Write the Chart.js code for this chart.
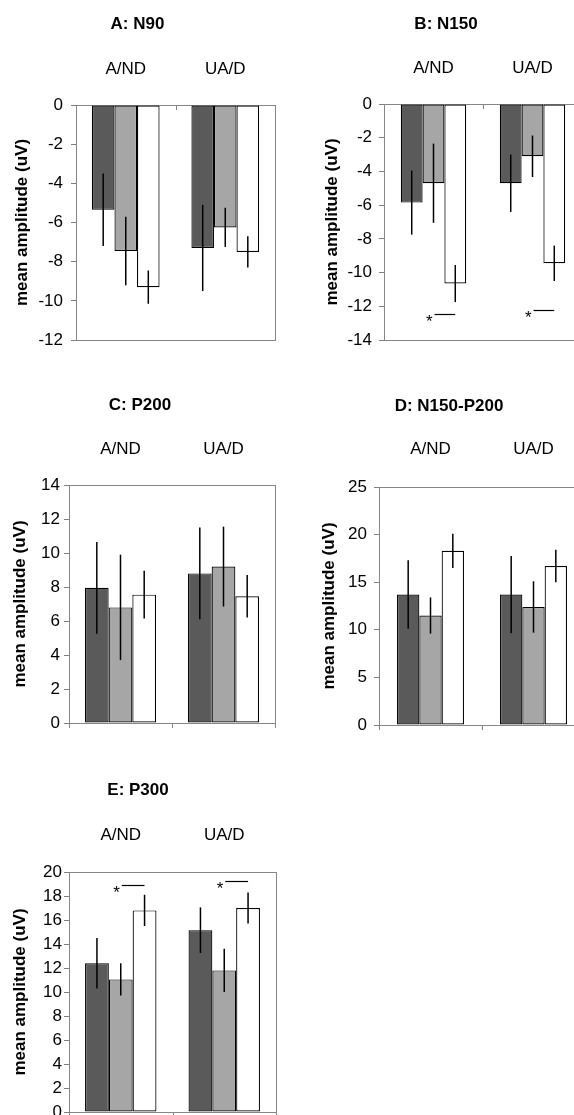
<!DOCTYPE html>
<html>
<head>
<meta charset="utf-8">
<script src="https://cdn.jsdelivr.net/npm/chart.js@4.4.1/dist/chart.umd.min.js"></script>
<style>
  html, body { margin: 0; padding: 0; background: #fff; overflow: hidden; width: 574px; height: 1115px; position: relative; }
  canvas { position: absolute; }
</style>
</head>
<body>
<canvas id="panelA" width="287" height="360" style="left:0;top:0"></canvas>
<canvas id="panelB" width="307" height="360" style="left:287px;top:0"></canvas>
<canvas id="panelC" width="287" height="400" style="left:0;top:360px"></canvas>
<canvas id="panelD" width="310" height="400" style="left:287px;top:360px"></canvas>
<canvas id="panelE" width="287" height="380" style="left:0;top:760px"></canvas>
<script>
const categories = ['A/ND', 'UA/D'];
const seriesNames = ['group 1', 'group 2', 'group 3'];
const seriesColors = ['#5a5a5a', '#a6a6a6', '#ffffff'];

// A: N90
const n90Dark = [-5.35, -7.3];
const n90Gray = [-7.45, -6.25];
const n90White = [-9.3, -7.5];
const n90DarkErr = [1.85, 2.2];
const n90GrayErr = [1.75, 1.0];
const n90WhiteErr = [0.85, 0.8];
const n90Axis = [-12, 0, 2];

// B: N150
const n150Dark = [-5.85, -4.7];
const n150Gray = [-4.7, -3.1];
const n150White = [-10.65, -9.45];
const n150DarkErr = [1.9, 1.7];
const n150GrayErr = [2.35, 1.23];
const n150WhiteErr = [1.1, 1.05];
const n150Sig = [-12.45, -12.2];
const n150Axis = [-14, 0, 2];

// C: P200
const p200Dark = [7.95, 8.8];
const p200Gray = [6.8, 9.2];
const p200White = [7.55, 7.45];
const p200DarkErr = [2.7, 2.7];
const p200GrayErr = [3.1, 2.35];
const p200WhiteErr = [1.4, 1.25];
const p200Axis = [0, 14, 2];

// D: N150-P200
const peakDark = [13.7, 13.7];
const peakGray = [11.5, 12.4];
const peakWhite = [18.3, 16.7];
const peakDarkErr = [3.6, 4.05];
const peakGrayErr = [1.9, 2.7];
const peakWhiteErr = [1.8, 1.7];
const peakAxis = [0, 25, 5];

// E: P300
const p300Dark = [12.4, 15.15];
const p300Gray = [11.05, 11.8];
const p300White = [16.8, 17.0];
const p300DarkErr = [2.1, 1.9];
const p300GrayErr = [1.35, 1.8];
const p300WhiteErr = [1.3, 1.3];
const p300Sig = [18.9, 19.25];
const p300Axis = [0, 20, 2];

const FONT = '"Liberation Sans", Arial, sans-serif';
Chart.defaults.font.family = FONT;
Chart.defaults.color = '#000';

// box, category ticks, error bars and the * markers
function extras(p) {
  return {
    id: 'extras',
    beforeDatasetsDraw(chart) {
      const { ctx, chartArea: a } = chart;
      ctx.save();
      ctx.strokeStyle = '#868686';
      ctx.lineWidth = 1;
      ctx.strokeRect(Math.round(a.left) + 0.5, Math.round(a.top) + 0.5,
        Math.round(a.right - a.left), Math.round(a.bottom - a.top));
      ctx.restore();
    },
    afterDatasetsDraw(chart) {
      const { ctx, scales: { x, y } } = chart;
      ctx.save();
      const y0 = Math.round(y.getPixelForValue(0));
      const half = (x.getPixelForValue(1) - x.getPixelForValue(0)) / 2;
      ctx.strokeStyle = '#868686';
      ctx.lineWidth = 1;
      for (let i = 0; i <= categories.length; i++) {
        const bx = Math.round(x.getPixelForValue(0) - half + i * 2 * half) + 0.5;
        ctx.beginPath();
        ctx.moveTo(bx, y0);
        ctx.lineTo(bx, y0 + 5);
        ctx.stroke();
      }

      ctx.strokeStyle = '#000';
      ctx.lineWidth = 1.5;
      p.errors.forEach((errs, i) => {
        chart.getDatasetMeta(i).data.forEach((bar, j) => {
          const v = p.series[i][j];
          ctx.beginPath();
          ctx.moveTo(bar.x, y.getPixelForValue(v + errs[j]));
          ctx.lineTo(bar.x, y.getPixelForValue(v - errs[j]));
          ctx.stroke();
        });
      });

      if (p.sig) {
        ctx.font = '17px ' + FONT;
        ctx.fillStyle = '#000';
        ctx.textAlign = 'right';
        ctx.textBaseline = 'alphabetic';
        ctx.lineWidth = 1.2;
        p.sig.forEach((v, j) => {
          const x1 = chart.getDatasetMeta(1).data[j].x + 1;
          const x2 = chart.getDatasetMeta(2).data[j].x;
          const ys = Math.round(y.getPixelForValue(v)) + 0.5;
          ctx.beginPath();
          ctx.moveTo(x1, ys);
          ctx.lineTo(x2, ys);
          ctx.stroke();
          ctx.fillText('*', x1 - 2, ys + 12.5);
        });
      }
      ctx.restore();
    }
  };
}

function makeChart(id, p) {
  return new Chart(document.getElementById(id), {
    type: 'bar',
    data: {
      labels: categories,
      datasets: p.series.map((vals, i) => ({
        label: seriesNames[i],
        data: vals,
        backgroundColor: seriesColors[i],
        borderColor: '#000',
        borderWidth: 1.2,
        borderSkipped: false,
        barPercentage: 1,
        categoryPercentage: p.catPct
      }))
    },
    options: {
      responsive: false,
      animation: false,
      events: [],
      layout: { padding: p.pad },
      plugins: {
        legend: { display: false },
        tooltip: { enabled: false },
        title: {
          display: true,
          text: p.title,
          color: '#000',
          font: { size: 17, weight: 'bold' },
          padding: { top: p.titlePad, bottom: 0 }
        }
      },
      scales: {
        x: {
          position: 'top',
          grid: { display: false },
          border: { display: false },
          ticks: { padding: p.xTickPad, font: { size: 17 }, color: '#000' },
          afterFit: s => { s.height = p.xHeight; }
        },
        y: {
          min: p.axis[0],
          max: p.axis[1],
          ticks: { stepSize: p.axis[2], padding: p.yTickPad, font: { size: 17 }, color: '#000' },
          grid: { drawOnChartArea: false, tickLength: 5, color: '#808080' },
          border: { color: '#808080' },
          title: {
            display: true,
            text: 'mean amplitude (uV)',
            color: '#000',
            font: { size: 17, weight: 'bold' },
            padding: { top: p.yTitlePad, bottom: 0 }
          },
          afterFit: s => { s.width = p.yWidth; }
        }
      }
    },
    plugins: [extras(p)]
  });
}

makeChart('panelA', {
  title: 'A: N90',
  series: [n90Dark, n90Gray, n90White],
  errors: [n90DarkErr, n90GrayErr, n90WhiteErr],
  axis: n90Axis,
  pad: { left: 0, right: 12, top: 0, bottom: 20 },
  yWidth: 76, yTitlePad: 11.8, yTickPad: 8,
  titlePad: 14, xHeight: 70.6, xTickPad: 17.8,
  catPct: 0.68
});

makeChart('panelB', {
  title: 'B: N150',
  series: [n150Dark, n150Gray, n150White],
  errors: [n150DarkErr, n150GrayErr, n150WhiteErr],
  sig: n150Sig,
  axis: n150Axis,
  pad: { left: 23, right: 12, top: 0, bottom: 20 },
  yWidth: 74, yTitlePad: 12.3, yTickPad: 7,
  titlePad: 14, xHeight: 69.6, xTickPad: 17.1,
  catPct: 0.66
});

makeChart('panelC', {
  title: 'C: P200',
  series: [p200Dark, p200Gray, p200White],
  errors: [p200DarkErr, p200GrayErr, p200WhiteErr],
  axis: p200Axis,
  pad: { left: 5, right: 12, top: 0, bottom: 37 },
  yWidth: 64, yTitlePad: 4.8, yTickPad: 4,
  titlePad: 34.8, xHeight: 69.8, xTickPad: 17.8,
  catPct: 0.69
});

makeChart('panelD', {
  title: 'D: N150-P200',
  series: [peakDark, peakGray, peakWhite],
  errors: [peakDarkErr, peakGrayErr, peakWhiteErr],
  axis: peakAxis,
  pad: { left: 26, right: 12, top: 0, bottom: 35 },
  yWidth: 66, yTitlePad: 6.3, yTickPad: 7,
  titlePad: 35.8, xHeight: 70.8, xTickPad: 19.8,
  catPct: 0.65
});

makeChart('panelE', {
  title: 'E: P300',
  series: [p300Dark, p300Gray, p300White],
  errors: [p300DarkErr, p300GrayErr, p300WhiteErr],
  sig: p300Sig,
  axis: p300Axis,
  pad: { left: 0, right: 11, top: 0, bottom: 28 },
  yWidth: 69, yTitlePad: 9.8, yTickPad: 2,
  titlePad: 19.8, xHeight: 71.8, xTickPad: 18.8,
  catPct: 0.69
});
</script>
</body>
</html>
